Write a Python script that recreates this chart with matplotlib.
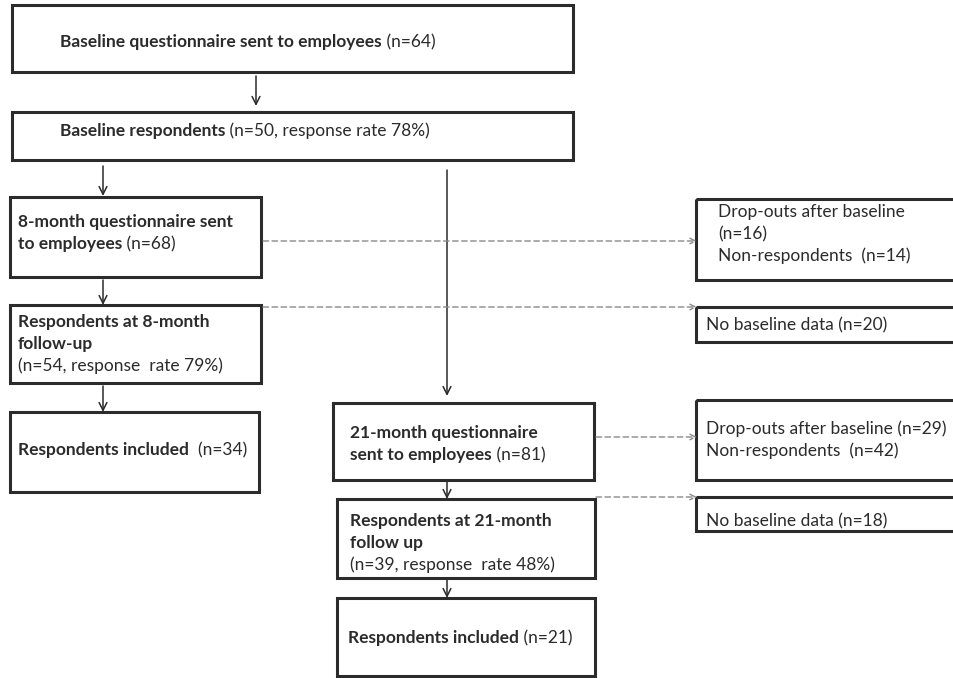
import matplotlib.pyplot as plt
from matplotlib.patches import Rectangle

# box contents: each line is a list of (text, bold) pieces
box_lines = [
    [[("Baseline questionnaire sent to employees", True), (" (n=64)", False)]],
    [[("Baseline respondents", True), (" (n=50, response rate 78%)", False)]],
    [[("8-month questionnaire sent", True)],
     [("to employees", True), (" (n=68)", False)]],
    [[("Respondents at 8-month", True)],
     [("follow-up", True)],
     [("(n=54, response  rate 79%)", False)]],
    [[("Respondents included", True), ("  (n=34)", False)]],
    [[("21-month questionnaire", True)],
     [("sent to employees", True), (" (n=81)", False)]],
    [[("Respondents at 21-month", True)],
     [("follow up", True)],
     [("(n=39, response  rate 48%)", False)]],
    [[("Respondents included", True), (" (n=21)", False)]],
    [[("Drop-outs after baseline", False)],
     [("(n=16)", False)],
     [("Non-respondents  (n=14)", False)]],
    [[("No baseline data (n=20)", False)]],
    [[("Drop-outs after baseline (n=29)", False)],
     [("Non-respondents  (n=42)", False)]],
    [[("No baseline data (n=18)", False)]],
]

# layout in pixels: left, top, right, bottom, text x, first line y
box_geom = [
    (12, 5, 573, 72, 60, 42),
    (12, 112, 573, 160, 60, 131),
    (10, 197, 261, 277, 18, 222),
    (10, 305, 261, 383, 18, 322),
    (10, 412, 259, 492, 18, 450),
    (333, 403, 594, 480, 350, 433),
    (337, 499, 595, 578, 350, 521),
    (337, 598, 595, 676, 348, 638),
    (696, 199, 960, 280, 718, 212),
    (696, 307, 960, 342, 706, 325),
    (696, 400, 960, 480, 706, 429),
    (696, 497, 960, 531, 706, 521),
]
line_gap = 22

# solid arrows: x, y start, y end
solid_arrows = [(256, 76, 106), (103, 166, 196), (103, 280, 305), (103, 386, 412),
                (447, 170, 396), (447, 482, 499), (447, 580, 598)]
# dashed arrows: y, x start, x end
dashed_arrows = [(241, 263, 697), (307, 263, 697), (437, 596, 697), (497, 596, 697)]

fig = plt.figure(figsize=(9.54, 6.78), dpi=100)
ax = fig.add_axes([0, 0, 1, 1])
ax.set_xlim(0, 954)
ax.set_ylim(678, 0)
ax.axis("off")
renderer = fig.canvas.get_renderer()

ink = "#2b2b2b"
font = "Lato"
fsize = 12.5

for (l, t, r, b, tx, ty), lines in zip(box_geom, box_lines):
    ax.add_patch(Rectangle((l, t), r - l, b - t, fill=False, lw=2.2, ec=ink))
    for i, pieces in enumerate(lines):
        x = tx
        y = ty + i * line_gap
        for txt, bold in pieces:
            h = ax.text(x, y, txt, fontsize=fsize, family=font, color=ink,
                        fontweight="bold" if bold else "normal", va="center", ha="left")
            bb = h.get_window_extent(renderer=renderer)
            x += bb.width

for x, y0, y1 in solid_arrows:
    ax.annotate("", xy=(x, y1), xytext=(x, y0),
                arrowprops=dict(arrowstyle="->", lw=1.1, color=ink,
                                shrinkA=0, shrinkB=0, mutation_scale=14))

for y, x0, x1 in dashed_arrows:
    ax.annotate("", xy=(x1, y), xytext=(x0, y),
                arrowprops=dict(arrowstyle="->", lw=1.0, color="#8a8a8a", ls=(0, (4, 2.5)),
                                shrinkA=0, shrinkB=0, mutation_scale=10))

fig.savefig("out.png", dpi=100)
